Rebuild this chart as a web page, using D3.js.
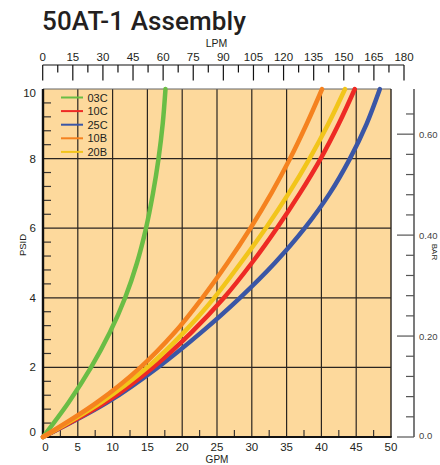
<!DOCTYPE html>
<html><head><meta charset="utf-8">
<script src="https://cdn.jsdelivr.net/npm/d3@7"></script>
<style>
html,body{margin:0;padding:0;background:#fff;}
svg{display:block;}
</style></head>
<body>
<svg id="chart" width="440" height="465"></svg>
<script>
// ---- data ----
const psiLevels = [0, 1, 2, 3, 4, 5, 6, 7, 8, 9, 10];
const gpm03C = [0, 3.7, 6.9, 9.6, 11.8, 13.5, 14.8, 15.8, 16.6, 17.2, 17.6];
const gpm10C = [0, 9.0, 15.8, 21.3, 26.0, 30.0, 33.6, 36.9, 39.9, 42.5, 44.8];
const gpm25C = [0, 9.3, 16.5, 22.7, 28.3, 33.3, 37.6, 41.2, 44.1, 46.5, 48.4];
const gpm10B = [0, 7.8, 14.0, 18.9, 22.9, 26.5, 29.8, 32.8, 35.5, 37.9, 40.1];
const gpm20B = [0, 8.4, 15.0, 20.2, 24.6, 28.4, 32.0, 35.3, 38.3, 41.0, 43.4];
const seriesNames = ["03C", "10C", "25C", "10B", "20B"];
const seriesColors = ["#6abd45", "#ee2a24", "#3a56a6", "#f5821f", "#f2c51a"];
const drawOrder = ["03C", "25C", "10C", "20B", "10B"];
const gpmTicks = [0, 5, 10, 15, 20, 25, 30, 35, 40, 45, 50];
const psiTickLabels = [0, 2, 4, 6, 8, 10];
const lpmTicks = [0, 15, 30, 45, 60, 75, 90, 105, 120, 135, 150, 165, 180];
const barTickLabels = [0, 0.2, 0.4, 0.6];
const barLabelText = ["0.0", "0.20", "0.40", "0.60"];
const PSI_TO_BAR = 0.0689476;

const seriesData = {
  "03C": gpm03C, "10C": gpm10C, "25C": gpm25C, "10B": gpm10B, "20B": gpm20B
};

// ---- layout ----
const svg = d3.select("#chart");
const x = d3.scaleLinear().domain([0, 50]).range([43, 391]);
const y = d3.scaleLinear().domain([0, 10]).range([437, 89]);
const xL = d3.scaleLinear().domain([0, 180]).range([42.7, 404]);
const yB = d3.scaleLinear().domain([0, 10 * PSI_TO_BAR]).range([437, 89]);
const narrow = "'Liberation Sans Narrow','Arial Narrow','Liberation Sans',Arial,sans-serif";
const sans = "'Liberation Sans',Arial,sans-serif";
const ink = "#231f20";

// title
svg.append("text").attr("x", 42).attr("y", 29.5)
  .attr("font-family", "Roboto,'Liberation Sans',Arial,sans-serif")
  .attr("font-weight", 500).attr("font-size", 26).attr("letter-spacing", 0.1)
  .attr("fill", ink).text("50AT-1 Assembly");

// plot background
svg.append("rect").attr("x", x(0)).attr("y", y(10))
  .attr("width", x(50) - x(0)).attr("height", y(0) - y(10))
  .attr("fill", "#fdd99c");

// grid
const g = svg.append("g");
g.selectAll("line.vg").data(gpmTicks.filter(d => d > 0 && d < 50)).join("line")
  .attr("x1", d => x(d)).attr("x2", d => x(d)).attr("y1", y(10)).attr("y2", y(0))
  .attr("stroke", "#2a2520").attr("stroke-width", 1.2);
g.selectAll("line.hg").data([2, 4, 6, 8]).join("line")
  .attr("x1", x(0)).attr("x2", x(50)).attr("y1", d => y(d)).attr("y2", d => y(d))
  .attr("stroke", "#2a2520").attr("stroke-width", 1.2);

// minor ticks inside
const psiMinor = d3.range(0, 10.001, 0.4).filter(d => Math.abs(d / 2 - Math.round(d / 2)) > 0.01);
g.selectAll("line.pm").data(psiMinor).join("line")
  .attr("x1", x(0)).attr("x2", x(0) + 8).attr("y1", d => y(d)).attr("y2", d => y(d))
  .attr("stroke", "#3a3530").attr("stroke-width", 1.2);
const gpmMinor = d3.range(2.5, 50, 5);
g.selectAll("line.gm").data(gpmMinor).join("line")
  .attr("x1", d => x(d)).attr("x2", d => x(d)).attr("y1", y(0)).attr("y2", y(0) - 7)
  .attr("stroke", "#3a3530").attr("stroke-width", 1.2);

// borders
svg.append("line").attr("x1", x(0)).attr("x2", x(50)).attr("y1", y(10)).attr("y2", y(10))
  .attr("stroke", "#666").attr("stroke-width", 1.2);
svg.append("line").attr("x1", x(50)).attr("x2", x(50)).attr("y1", y(10)).attr("y2", y(0))
  .attr("stroke", "#2a2520").attr("stroke-width", 1.4);
svg.append("line").attr("x1", x(0)).attr("x2", x(50) + 0.7).attr("y1", y(0)).attr("y2", y(0))
  .attr("stroke", "#111").attr("stroke-width", 2);
svg.append("line").attr("x1", x(0)).attr("x2", x(0)).attr("y1", y(10)).attr("y2", y(0) + 1)
  .attr("stroke", "#111").attr("stroke-width", 2.4);

// curves
const line = d3.line()
  .x(d => x(d[0])).y(d => y(d[1]))
  .curve(d3.curveCatmullRom.alpha(0.5));
svg.append("g").selectAll("path").data(drawOrder).join("path")
  .attr("d", name => line(seriesData[name].map((v, i) => [v, psiLevels[i]])))
  .attr("fill", "none")
  .attr("stroke", name => seriesColors[seriesNames.indexOf(name)])
  .attr("stroke-width", 4.5).attr("stroke-linecap", "round").attr("stroke-linejoin", "round");

// legend
const leg = svg.append("g").attr("transform", "translate(61,97.5)");
const li = leg.selectAll("g").data(seriesNames).join("g")
  .attr("transform", (d, i) => `translate(0,${i * 13.6})`);
li.append("line").attr("x1", 0).attr("x2", 22).attr("y1", 0).attr("y2", 0)
  .attr("stroke", (d, i) => seriesColors[i]).attr("stroke-width", 2);
li.append("text").attr("x", 26.5).attr("y", 4).attr("font-family", sans)
  .attr("font-size", 11).attr("fill", ink).text(d => d);

// left axis labels
svg.selectAll("text.yl").data(psiTickLabels).join("text")
  .attr("x", 36).attr("y", d => y(d) + 4 + (d === 10 ? 4 : d === 0 ? -5 : 0))
  .attr("text-anchor", "end").attr("font-family", narrow).attr("font-size", 11.5)
  .attr("fill", ink).text(d => d);
svg.append("text").attr("transform", `translate(25.5,245) rotate(-90)`)
  .attr("text-anchor", "middle").attr("font-family", narrow).attr("font-size", 9.5)
  .attr("fill", ink).text("PSID");

// bottom axis labels
svg.selectAll("text.xl").data(gpmTicks).join("text")
  .attr("x", d => x(d) + (d === 0 ? 2.5 : 0)).attr("y", 451)
  .attr("text-anchor", "middle").attr("font-family", narrow).attr("font-size", 11.5)
  .attr("fill", ink).text(d => d);
svg.append("text").attr("x", (x(0) + x(50)) / 2).attr("y", 463)
  .attr("text-anchor", "middle").attr("font-family", narrow).attr("font-size", 10)
  .attr("fill", ink).text("GPM");

// top LPM axis
const topAxis = svg.append("g");
topAxis.append("line").attr("x1", xL(0)).attr("x2", xL(180)).attr("y1", 65).attr("y2", 65)
  .attr("stroke", "#111").attr("stroke-width", 1.2);
topAxis.selectAll("line.lt").data(lpmTicks).join("line")
  .attr("x1", d => xL(d)).attr("x2", d => xL(d)).attr("y1", 65).attr("y2", 80.5)
  .attr("stroke", "#111").attr("stroke-width", 1.2);
topAxis.selectAll("line.lm").data(d3.range(7.5, 180, 15)).join("line")
  .attr("x1", d => xL(d)).attr("x2", d => xL(d)).attr("y1", 65).attr("y2", 72.5)
  .attr("stroke", "#111").attr("stroke-width", 1.2);
topAxis.selectAll("text").data(lpmTicks).join("text")
  .attr("x", d => xL(d)).attr("y", 61).attr("text-anchor", "middle")
  .attr("font-family", narrow).attr("font-size", 11.5).attr("fill", ink).text(d => d);
svg.append("text").attr("x", 216.5).attr("y", 47).attr("text-anchor", "middle")
  .attr("font-family", narrow).attr("font-size", 10.5).attr("fill", ink).text("LPM");

// right BAR axis
const rb = svg.append("g");
rb.append("line").attr("x1", 414).attr("x2", 414).attr("y1", 89).attr("y2", 437)
  .attr("stroke", "#222").attr("stroke-width", 1.2);
const barMinor = d3.range(0.04, 0.65, 0.04).filter(b => Math.abs(b * 5 - Math.round(b * 5)) > 0.01);
rb.selectAll("line.bm").data(barMinor).join("line")
  .attr("x1", 406).attr("x2", 414).attr("y1", d => yB(d)).attr("y2", d => yB(d))
  .attr("stroke", "#555").attr("stroke-width", 1.2);
rb.selectAll("line.bM").data(barTickLabels).join("line")
  .attr("x1", 397).attr("x2", 414).attr("y1", d => yB(d)).attr("y2", d => yB(d))
  .attr("stroke", "#555").attr("stroke-width", 1.2);
rb.selectAll("text").data(barTickLabels).join("text")
  .attr("x", 419).attr("y", (d, i) => yB(d) + 3.5 - (i === 0 ? 2 : 0))
  .attr("font-family", sans).attr("font-size", 9.5).attr("fill", "#444")
  .text((d, i) => barLabelText[i]);
svg.append("text").attr("transform", "translate(431.5,252) rotate(90)")
  .attr("text-anchor", "middle").attr("font-family", narrow).attr("font-size", 8)
  .attr("fill", ink).text("BAR");
</script>
</body></html>
